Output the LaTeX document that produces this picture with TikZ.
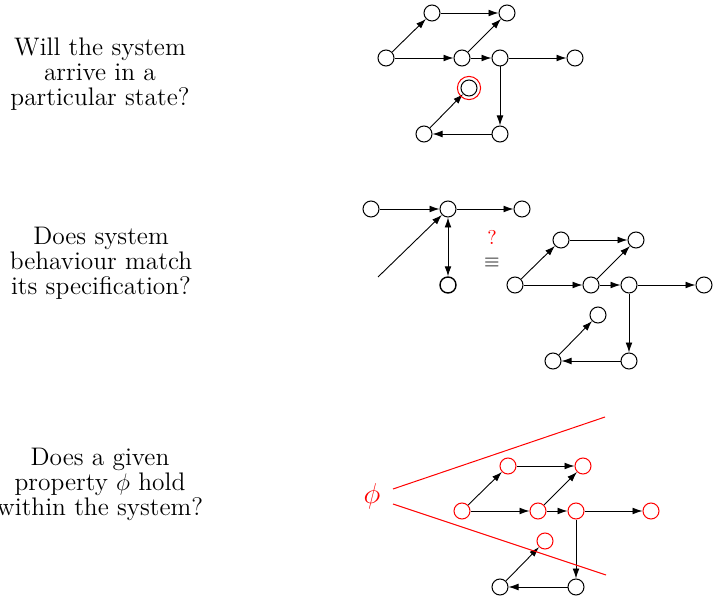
\documentclass[tikz,border=0pt]{standalone}
\usetikzlibrary{arrows.meta}
\newcommand\statesgraph[4]{%
\begin{scope}[shift={(#2,#3)}]
\node[#4] (#1C) at (0,0) {};
\node[#4] (#1A) at (46,-45) {};
\node[#4] (#1B) at (121,-45) {};
\node[#4] (#1D) at (76,0) {};
\node[#4] (#1E) at (114,0) {};
\node[#4] (#1F) at (189,0) {};
\node[#4] (#1G) at (83,30) {};
\node[st] (#1H) at (38,76) {};
\node[st] (#1I) at (114,76) {};
\draw[ed] (#1C) -- (#1A);
\draw[ed] (#1A) -- (#1B);
\draw[ed] (#1C) -- (#1D);
\draw[ed] (#1D) -- (#1B);
\draw[ed] (#1D) -- (#1E);
\draw[ed] (#1E) -- (#1F);
\draw[ed] (#1E) -- (#1I);
\draw[ed] (#1I) -- (#1H);
\draw[ed] (#1H) -- (#1G);
\end{scope}}
\begin{document}
\begin{tikzpicture}[x=0.5pt,y=-0.5pt,
 st/.style={circle,draw,minimum size=8pt,inner sep=0pt,line width=0.5pt},
 rst/.style={st,draw=red},
 ed/.style={-{Latex[length=5pt,width=3.4pt]},line width=0.45pt},
 lab/.style={align=center,font=\fontsize{12.7}{12.5}\selectfont}]
\useasboundingbox (0,0) rectangle (713,599);
% texts
\node[lab] (q1) at (100,74) {Will the system\\arrive in a\\particular state?};
\node[lab] (q2) at (101,263) {Does system\\behaviour match\\its specification?};
\node[lab] (q3) at (100,484) {Does a given\\property $\phi$ hold\\within the system?};
% graph 1
\statesgraph{a}{386}{58}{st}
\draw[red,line width=0.5pt] (aG) circle (5.8pt);
% graph 2 specification
\node[st] (sL) at (371,209) {};
\node[st] (sM) at (448,209) {};
\node[st] (sR) at (522,209) {};
\node[st,line width=0.7pt] (sB) at (448,285) {};
\coordinate (sIn) at (378,277);
\draw[ed] (sL) -- (sM);
\draw[ed] (sM) -- (sR);
\draw[ed,{Latex[length=5pt,width=3.4pt]}-{Latex[length=5pt,width=3.4pt]}] (sM) -- (sB);
\draw[ed] (sIn) -- (sM);
\node[text=red,inner sep=0pt] (qm) at (492,237) {?};
\node[inner sep=0pt] (eqv) at (492,263) {$\equiv$};
\statesgraph{b}{515}{285}{st}
% graph 3
\statesgraph{c}{462}{511}{rst}
\node[text=red,font=\Large] (phi) at (372,496) {$\phi$};
\coordinate (u1) at (393,489);
\coordinate (u2) at (605,417);
\coordinate (l1) at (393,504);
\coordinate (l2) at (606,575);
\draw[red,line width=0.5pt] (u1) -- (u2);
\draw[red,line width=0.5pt] (l1) -- (l2);
\end{tikzpicture}
\end{document}
